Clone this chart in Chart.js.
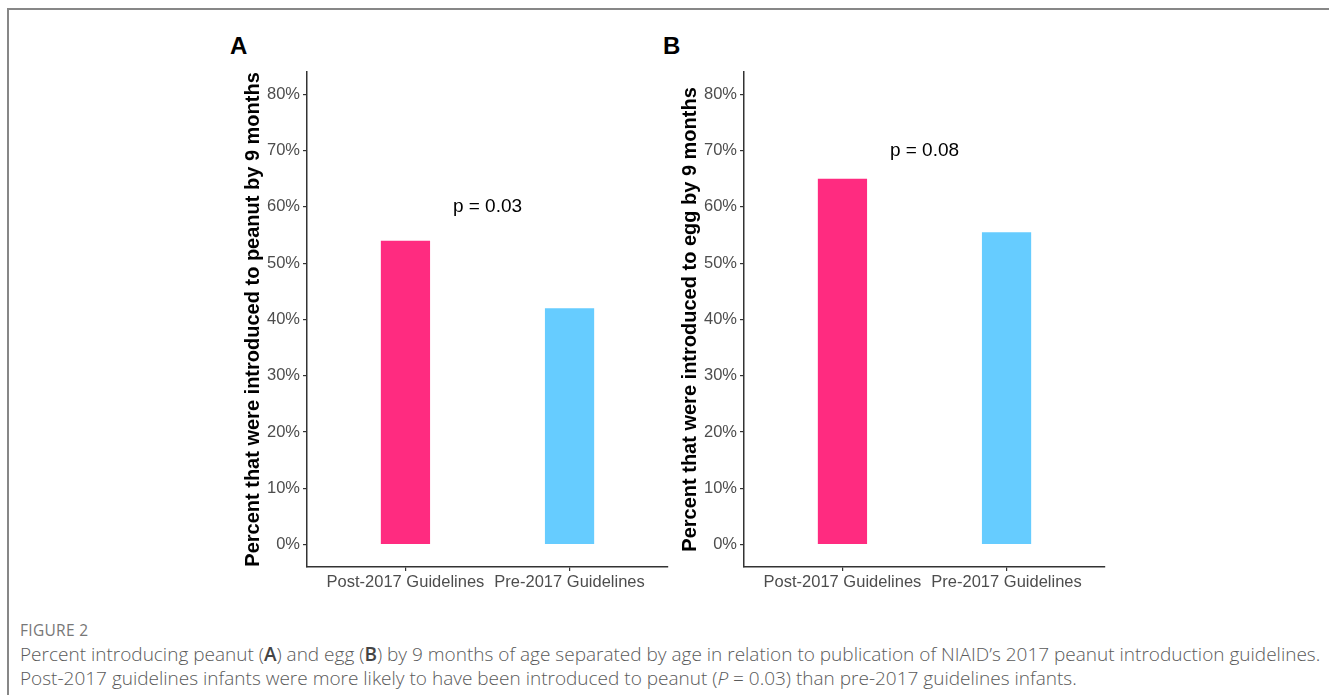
<!DOCTYPE html>
<html>
<head>
<meta charset="utf-8">
<script src="https://cdn.jsdelivr.net/npm/chart.js@4.4.1/dist/chart.umd.min.js"></script>
<style>
  html, body { margin: 0; padding: 0; background: #ffffff; }
  body { width: 1329px; height: 695px; position: relative; overflow: hidden; font-family: "Liberation Sans", Arial, sans-serif; }
  #frame { position: absolute; left: 7px; top: 8px; right: -10px; bottom: -10px; border-top: 2px solid #878787; border-left: 2px solid #878787; }
  canvas { position: absolute; }
  .letter { position: absolute; font-family: "Liberation Sans", Arial, sans-serif; font-weight: bold; font-size: 24px; line-height: 24px; color: #000; }
  .figlabel { position: absolute; left: 20px; top: 620px; font-family: "Open Sans", sans-serif; font-weight: 400; font-size: 15.5px; line-height: 20px; color: #777777; letter-spacing: 0.3px; }
  .cap { position: absolute; left: 20px; font-family: "Open Sans", sans-serif; font-weight: 300; font-size: 19px; line-height: 24px; color: #5a5a5a; white-space: nowrap; }
  .cap b { font-weight: 600; color: #444; }
</style>
</head>
<body>
<div id="frame"></div>
<div class="letter" style="left:230px; top:34px;">A</div>
<div class="letter" style="left:663px; top:34px;">B</div>
<canvas id="chartA" width="450" height="540" style="left:232px; top:59px;"></canvas>
<canvas id="chartB" width="450" height="540" style="left:669px; top:59px;"></canvas>
<div class="figlabel">FIGURE 2</div>
<div class="cap" id="cap1" style="top:642px;">Percent introducing peanut (<b>A</b>) and egg (<b>B</b>) by 9 months of age separated by age in relation to publication of NIAID’s 2017 peanut introduction guidelines.</div>
<div class="cap" id="cap2" style="top:666px;">Post-2017 guidelines infants were more likely to have been introduced to peanut (<i>P</i> = 0.03) than pre-2017 guidelines infants.</div>
<script>
// ---- data ----
const categories = ['Post-2017 Guidelines', 'Pre-2017 Guidelines'];
const categoryPositions = [1, 2];
const peanutPercent = [54, 42];
const eggPercent = [65, 55.5];
const barColors = ['#FF2B80', '#66CCFF'];
const yTickValues = [0, 10, 20, 30, 40, 50, 60, 70, 80];
const yTickLabels = ['0%', '10%', '20%', '30%', '40%', '50%', '60%', '70%', '80%'];
const peanutTitle = 'Percent that were introduced to peanut by 9 months';
const eggTitle = 'Percent that were introduced to egg by 9 months';
const peanutP = { text: 'p = 0.03', x: 1.5, y: 60 };
const eggP = { text: 'p = 0.08', x: 1.5, y: 70 };

const FONT = '"Liberation Sans", Arial, Helvetica, sans-serif';
Chart.defaults.font.family = FONT;

const pLabelPlugin = {
  id: 'pLabel',
  afterDatasetsDraw(chart, args, opts) {
    const { ctx, scales } = chart;
    const px = scales.x.getPixelForValue(opts.x);
    const py = scales.y.getPixelForValue(opts.y);
    ctx.save();
    ctx.font = '19px ' + FONT;
    ctx.fillStyle = '#000';
    ctx.textAlign = 'center';
    ctx.textBaseline = 'middle';
    ctx.fillText(opts.text, px, py);
    ctx.restore();
  }
};

function makeChart(id, values, title, pInfo) {
  const data = categoryPositions.map((x, i) => ({ x: x, y: values[i] }));
  return new Chart(document.getElementById(id), {
    type: 'bar',
    data: {
      datasets: [{
        data: data,
        backgroundColor: barColors,
        borderWidth: 0,
        categoryPercentage: 1.0,
        barPercentage: 0.3
      }]
    },
    options: {
      responsive: false,
      animation: false,
      devicePixelRatio: 1,
      layout: { padding: { left: 0, right: 14, top: 10, bottom: 0 } },
      plugins: {
        legend: { display: false },
        tooltip: { enabled: false },
        pLabel: pInfo
      },
      scales: {
        x: {
          type: 'linear',
          min: 0.4,
          max: 2.6,
          bounds: 'data',
          offset: false,
          afterBuildTicks: (s) => { s.ticks = categoryPositions.map(v => ({ value: v })); },
          afterFit: (s) => { s.height = 32; },
          ticks: {
            autoSkip: false,
            maxRotation: 0,
            padding: 2,
            color: '#4d4d4d',
            font: { size: 16.5 },
            callback: (v, i) => categories[i]
          },
          grid: { display: true, offset: false, drawOnChartArea: false, drawTicks: true, tickLength: 4, color: '#333333', lineWidth: 1.2 },
          border: { display: true, color: '#333333', width: 1.5 }
        },
        y: {
          type: 'linear',
          min: -4,
          max: 84,
          bounds: 'data',
          afterBuildTicks: (s) => { s.ticks = yTickValues.map(v => ({ value: v })); },
          afterFit: (s) => { s.width = 75; },
          ticks: {
            padding: 3,
            color: '#4d4d4d',
            font: { size: 16.5 },
            callback: (v, i) => yTickLabels[i]
          },
          title: {
            display: true,
            text: title,
            color: '#000',
            font: { size: 20, weight: 'bold' },
            padding: { top: 9, bottom: 0 }
          },
          grid: { display: true, offset: false, drawOnChartArea: false, drawTicks: true, tickLength: 4, color: '#333333', lineWidth: 1.2 },
          border: { display: true, color: '#333333', width: 1.5 }
        }
      }
    },
    plugins: [pLabelPlugin]
  });
}

makeChart('chartA', peanutPercent, peanutTitle, peanutP);
makeChart('chartB', eggPercent, eggTitle, eggP);
</script>
</body>
</html>
